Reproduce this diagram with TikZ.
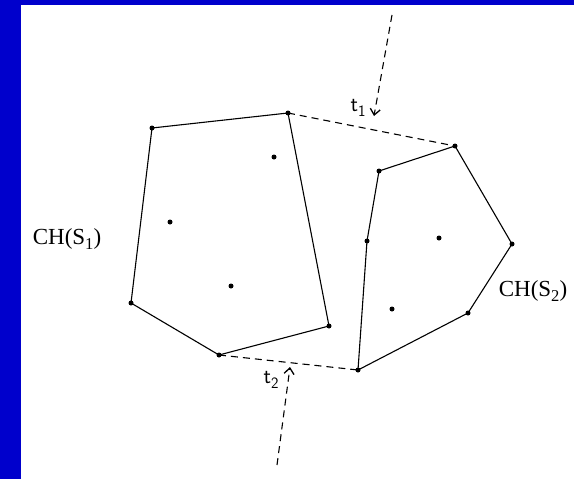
\documentclass[tikz,border=0pt]{standalone}
\usepackage{fontspec}
\setmainfont{Liberation Serif}
\usetikzlibrary{arrows.meta}
\definecolor{barblue}{RGB}{0,0,204}
\newcommand{\lowsub}[1]{\raisebox{-0.45ex}{\scalebox{0.72}{#1}}}
\begin{document}
\begin{tikzpicture}[x=1pt,y=-1pt,
  pt/.style={circle,fill=black,inner sep=0pt,minimum size=5pt},
  hull/.style={line width=1.1pt},
  bridge/.style={line width=1.1pt,dash pattern=on 7pt off 5pt},
  arr/.style={line width=1.1pt,dash pattern=on 7pt off 5pt,-{Straight Barb[length=6pt,width=10pt,line width=1.3pt]}},
  lab/.style={font=\fontsize{23}{23}\selectfont},
  tlab/.style={font=\sffamily\fontsize{22}{22}\selectfont}]
\useasboundingbox (0,0) rectangle (574,479);
\fill[barblue] (0,0) rectangle (574,5);
\fill[barblue] (0,0) rectangle (21,479);
% left hull
\node[pt] (a1) at (152,128) {};
\node[pt] (a2) at (288,113) {};
\node[pt] (a3) at (329,326) {};
\node[pt] (a4) at (219,355) {};
\node[pt] (a5) at (131,303) {};
\node[pt] (a6) at (274,157) {};
\node[pt] (a7) at (170,222) {};
\node[pt] (a8) at (231,286) {};
\draw[hull] (a1.center) -- (a2.center) -- (a3.center) -- (a4.center) -- (a5.center) -- cycle;
% right hull
\node[pt] (b1) at (455,146) {};
\node[pt] (b2) at (512,244) {};
\node[pt] (b3) at (468,313) {};
\node[pt] (b4) at (358,370) {};
\node[pt] (b5) at (367,241) {};
\node[pt] (b6) at (379,171) {};
\node[pt] (b7) at (439,238) {};
\node[pt] (b8) at (392,309) {};
\draw[hull] (b1.center) -- (b2.center) -- (b3.center) -- (b4.center) -- (b5.center) -- (b6.center) -- cycle;
% bridges
\draw[bridge] (a2.center) -- (b1.center);
\draw[bridge] (a4.center) -- (b4.center);
% arrows
\coordinate (s1) at (392,15);
\coordinate (e1) at (374,116);
\coordinate (s2) at (277,465);
\coordinate (e2) at (290,367);
\draw[arr] (s1) -- (e1);
\draw[arr] (s2) -- (e2);
% labels
\node[tlab] (t1) at (358,108) {t\lowsub{1}};
\node[tlab] (t2) at (271,380) {t\lowsub{2}};
\node[lab] (c1) at (67,239) {CH(S\lowsub{1})};
\node[lab] (c2) at (533,291) {CH(S\lowsub{2})};
\end{tikzpicture}
\end{document}
